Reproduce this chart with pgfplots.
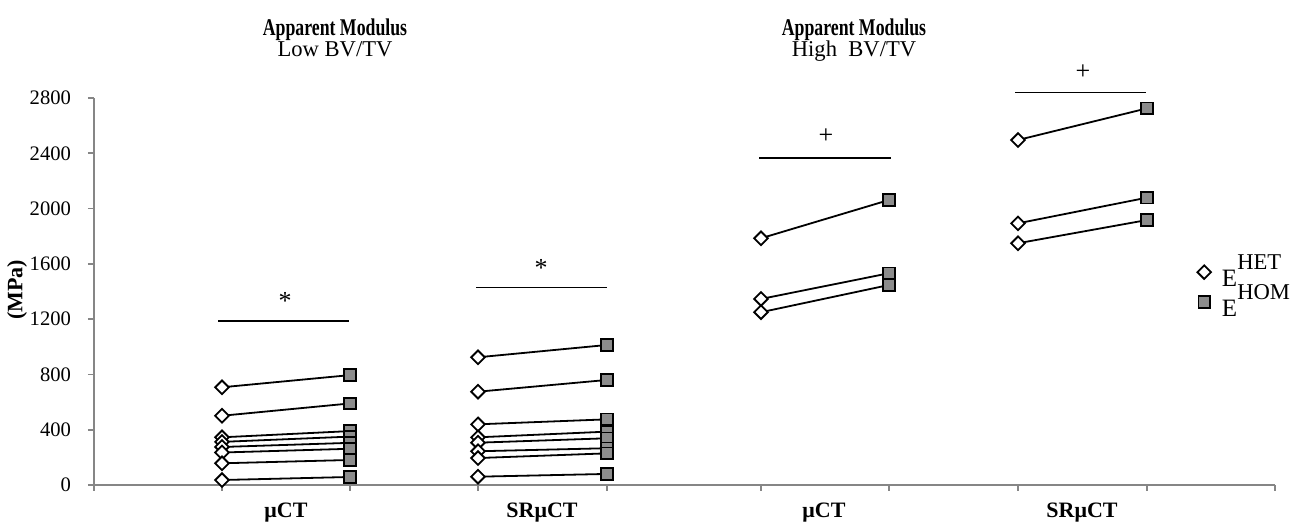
\documentclass[border=0pt]{standalone}
\usepackage{fontspec}
\setmainfont{Liberation Serif}
\usepackage{pgfplots}
\pgfplotsset{compat=1.18}
\definecolor{axisgray}{HTML}{868686}
\definecolor{markgray}{HTML}{8C8C8C}
\pgfplotsset{mlegend/.style={legend image code/.code={\draw[##1] plot coordinates {(0pt,0pt)};}}}
\begin{document}
\begin{tikzpicture}
\useasboundingbox (-47pt,-18.5pt) rectangle (602.5pt,242.5pt);
\begin{axis}[
 at={(0pt,0pt)}, anchor=south west,
 scale only axis, width=590.5pt, height=193.5pt,
 xmin=94, xmax=1275, ymin=0, ymax=2800,
 clip=false,
 axis lines*=left,
 axis line style={axisgray, line width=0.8pt},
 tick style={axisgray, line width=0.8pt},
 tick align=outside, major tick length=3pt,
 xtick={94,222,350,478,607,761,889,1018,1147,1275},
 xticklabels={},
 extra x ticks={286,542,824,1082},
 extra x tick labels={μCT, SRμCT, μCT, SRμCT},
 extra x tick style={major tick length=0pt, tick label style={font=\fontsize{11}{12}\selectfont\bfseries, yshift=-5.5pt}},
 ytick={0,400,...,2800},
 yticklabel style={font=\fontsize{10.3}{12}\selectfont, black, xshift=-5pt},
 /pgf/number format/assume math mode=true,
 /pgf/number format/1000 sep={},
 legend style={at={(axis cs:1191,1680)}, anchor=north west, draw=none, fill=none,
   font=\fontsize{12.5}{12}\selectfont, legend cell align=left,
   nodes={inner sep=1pt, text height=11pt, text depth=2pt}, row sep=0pt},
 pair/.style={black, line width=0.9pt, mark=none, forget plot},
]
% Low BV/TV, muCT
\addplot[pair] coordinates {(222,707) (350,795)};
\addplot[pair] coordinates {(222,501) (350,590)};
\addplot[pair] coordinates {(222,345) (350,390)};
\addplot[pair] coordinates {(222,312) (350,350)};
\addplot[pair] coordinates {(222,275) (350,305)};
\addplot[pair] coordinates {(222,235) (350,262)};
\addplot[pair] coordinates {(222,157) (350,181)};
\addplot[pair] coordinates {(222,36) (350,58)};
% Low BV/TV, SRmuCT
\addplot[pair] coordinates {(478,924) (607,1013)};
\addplot[pair] coordinates {(478,675) (607,760)};
\addplot[pair] coordinates {(478,439) (607,475)};
\addplot[pair] coordinates {(478,345) (607,386)};
\addplot[pair] coordinates {(478,306) (607,338)};
\addplot[pair] coordinates {(478,244) (607,266)};
\addplot[pair] coordinates {(478,195) (607,229)};
\addplot[pair] coordinates {(478,60) (607,80)};
% High BV/TV, muCT
\addplot[pair] coordinates {(761,1785) (889,2062)};
\addplot[pair] coordinates {(761,1346) (889,1532)};
\addplot[pair] coordinates {(761,1250) (889,1447)};
% High BV/TV, SRmuCT
\addplot[pair] coordinates {(1018,2496) (1147,2725)};
\addplot[pair] coordinates {(1018,1893) (1147,2079)};
\addplot[pair] coordinates {(1018,1749) (1147,1917)};
% HET markers
\addplot[only marks, mark=square*, mark size=2.4pt,
  mark options={rotate=45, fill=white, draw=black, line width=0.9pt}, mlegend]
 coordinates {(222,707) (222,501) (222,345) (222,312) (222,275) (222,235) (222,157) (222,36)
 (478,924) (478,675) (478,439) (478,345) (478,306) (478,244) (478,195) (478,60)
 (761,1785) (761,1346) (761,1250) (1018,2496) (1018,1893) (1018,1749)};
\addlegendentry{\hspace{4.5pt}\raisebox{-2.5pt}{E\raisebox{8.3pt}{\fontsize{11.3}{11}\selectfont HET}}}
% HOM markers
\addplot[only marks, mark=square*, mark size=2.9pt,
  mark options={fill=markgray, draw=black, line width=0.9pt}, mlegend]
 coordinates {(350,795) (350,590) (350,390) (350,350) (350,305) (350,262) (350,181) (350,58)
 (607,1013) (607,760) (607,475) (607,386) (607,338) (607,266) (607,229) (607,80)
 (889,2062) (889,1532) (889,1447) (1147,2725) (1147,2079) (1147,1917)};
\addlegendentry{\hspace{4.5pt}\raisebox{-2.5pt}{E\raisebox{8.3pt}{\fontsize{11.3}{11}\selectfont HOM}}}
% significance annotations
\draw[black, line width=0.8pt] (axis cs:218,1187) -- (axis cs:349,1187);
\node[anchor=base, font=\fontsize{13}{13}\selectfont] at (axis cs:285,1267) {*};
\draw[black, line width=0.8pt] (axis cs:476,1428) -- (axis cs:607,1428);
\node[anchor=base, font=\fontsize{13}{13}\selectfont] at (axis cs:541,1508) {*};
\draw[black, line width=0.8pt] (axis cs:759,2364) -- (axis cs:891,2364);
\node[anchor=base, font=\fontsize{13}{13}\selectfont] at (axis cs:826,2470) {+};
\draw[black, line width=0.8pt] (axis cs:1015,2841) -- (axis cs:1146,2841);
\node[anchor=base, font=\fontsize{13}{13}\selectfont] at (axis cs:1083,2933) {+};
% titles
\node[anchor=base, font=\fontsize{12}{12}\selectfont\bfseries] at (axis cs:335,3249) {\scalebox{0.74}[1]{Apparent Modulus}};
\node[anchor=base, font=\fontsize{11.3}{12}\selectfont] at (axis cs:335,3097) {Low BV/TV};
\node[anchor=base, font=\fontsize{12}{12}\selectfont\bfseries] at (axis cs:854,3249) {\scalebox{0.74}[1]{Apparent Modulus}};
\node[anchor=base, font=\fontsize{11.3}{12}\selectfont] at (axis cs:854,3097) {High\ \ BV/TV};
% y label
\node[rotate=90, font=\fontsize{11}{12}\selectfont\bfseries] at (axis cs:17,1411) {(MPa)};
\end{axis}
\end{tikzpicture}
\end{document}
